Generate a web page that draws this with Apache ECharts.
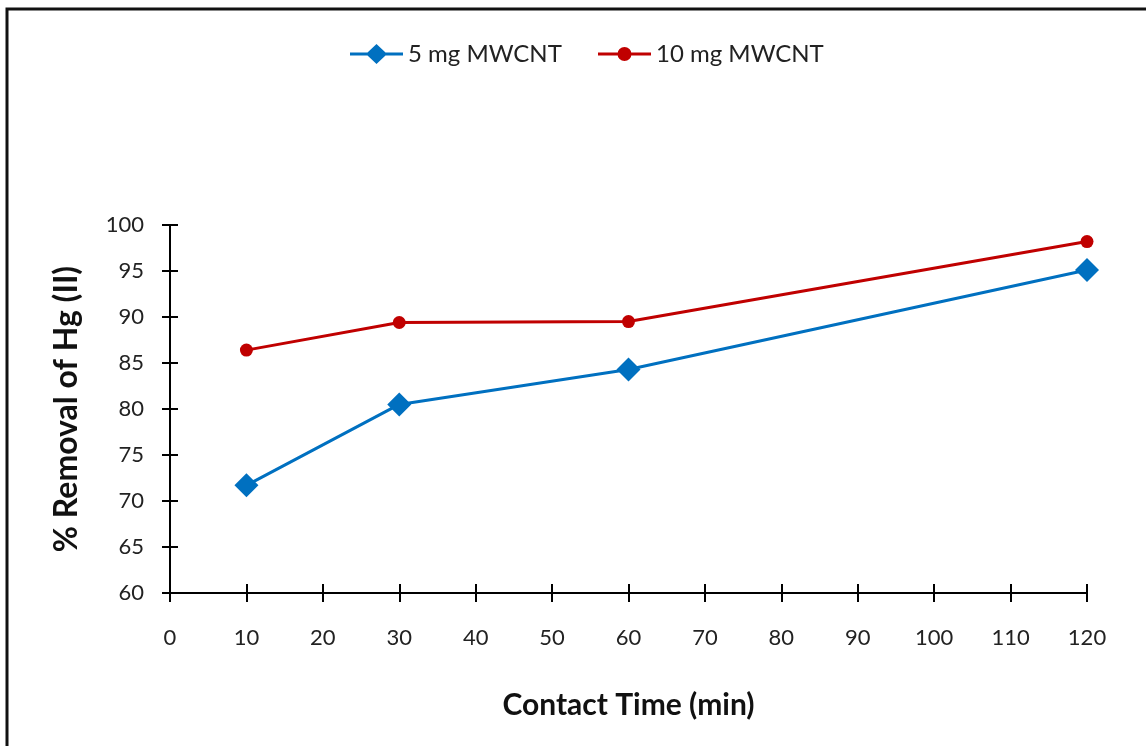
<!DOCTYPE html>
<html>
<head>
<meta charset="utf-8">
<script src="https://cdn.jsdelivr.net/npm/echarts@6/dist/echarts.min.js"></script>
<style>
  html, body { margin: 0; padding: 0; background: #fff; }
  #chart { width: 1146px; height: 746px; }
</style>
</head>
<body>
<div id="chart"></div>
<script>
// Contact time (min) and % removal of Hg(II) for two MWCNT doses
const contactTime = [10, 30, 60, 120];
const removal5mg = [71.7, 80.5, 84.3, 95.1];
const removal10mg = [86.4, 89.4, 89.5, 98.2];
const seriesNames = ['5 mg MWCNT', '10 mg MWCNT'];
const xAxisTitle = 'Contact Time (min)';
const yAxisTitle = '% Removal of Hg (II)';

const FONT = 'Lato, "Open Sans", sans-serif';
const BLUE = '#0070C0';
const RED = '#C00000';
const pairs = (xs, ys) => xs.map((x, i) => [x, ys[i]]);

// Legend icons: a short line segment with the series marker in the middle
const diamondIcon = 'path://M0,8.5 H17.5 L26.5,0 L35.5,8.5 H53 V11.5 H35.5 L26.5,20 L17.5,11.5 H0 Z';
const circleIcon = 'path://M0,5.5 H53 V8.5 H0 Z M19.5,7 A7,7 0 1,1 33.5,7 A7,7 0 1,1 19.5,7 Z';

const chart = echarts.init(document.getElementById('chart'), null, { renderer: 'canvas' });

const axisLine = { show: true, lineStyle: { color: '#000', width: 2 } };
const legendText = { fontSize: 24, color: '#222', fontFamily: FONT };

chart.setOption({
  animation: false,
  backgroundColor: '#fff',
  textStyle: { fontFamily: FONT },
  grid: { left: 170, right: 59, top: 225, bottom: 153 },
  legend: [{
    left: 350, top: 42, padding: 0,
    itemWidth: 53, itemHeight: 20, itemGap: 6,
    textStyle: legendText,
    data: [{ name: seriesNames[0], icon: diamondIcon }]
  }, {
    left: 598, top: 42, padding: 0,
    itemWidth: 53, itemHeight: 14, itemGap: 6,
    textStyle: legendText,
    data: [{ name: seriesNames[1], icon: circleIcon }]
  }],
  xAxis: [{
    type: 'value', min: 0, max: 120, interval: 10,
    axisLine: axisLine,
    axisTick: { show: true, length: 9, lineStyle: { color: '#000', width: 2 } },
    axisLabel: { fontSize: 22, color: '#222', margin: 34, fontFamily: FONT },
    splitLine: { show: false },
    name: xAxisTitle, nameLocation: 'middle', nameGap: 97,
    nameTextStyle: { fontSize: 30, fontWeight: 'bold', color: '#111', fontFamily: FONT }
  }, {
    type: 'value', min: 0, max: 120, interval: 10, position: 'bottom',
    axisLine: { show: false },
    axisTick: { show: true, inside: true, length: 9, lineStyle: { color: '#000', width: 2 } },
    axisLabel: { show: false }, splitLine: { show: false }
  }],
  yAxis: [{
    type: 'value', min: 60, max: 100, interval: 5,
    axisLine: axisLine,
    axisTick: { show: true, length: 8, lineStyle: { color: '#000', width: 2 } },
    axisLabel: { fontSize: 22, color: '#222', margin: 26, fontFamily: FONT },
    splitLine: { show: false },
    name: yAxisTitle, nameLocation: 'middle', nameGap: 87,
    nameTextStyle: { fontSize: 32, fontWeight: 'bold', color: '#111', fontFamily: FONT }
  }, {
    type: 'value', min: 60, max: 100, interval: 5, position: 'left',
    axisLine: { show: false },
    axisTick: { show: true, inside: true, length: 8, lineStyle: { color: '#000', width: 2 } },
    axisLabel: { show: false }, splitLine: { show: false }
  }],
  series: [{
    name: seriesNames[0],
    type: 'line',
    data: pairs(contactTime, removal5mg),
    symbol: 'diamond', symbolSize: 24,
    lineStyle: { color: BLUE, width: 3 },
    itemStyle: { color: BLUE }
  }, {
    name: seriesNames[1],
    type: 'line',
    data: pairs(contactTime, removal10mg),
    symbol: 'circle', symbolSize: 13,
    lineStyle: { color: RED, width: 3 },
    itemStyle: { color: RED }
  }],
  graphic: [{
    type: 'polyline',
    shape: { points: [[7, 746], [7, 9], [1146, 9]] },
    style: { stroke: '#111', lineWidth: 3, fill: null }
  }]
});
</script>
</body>
</html>
